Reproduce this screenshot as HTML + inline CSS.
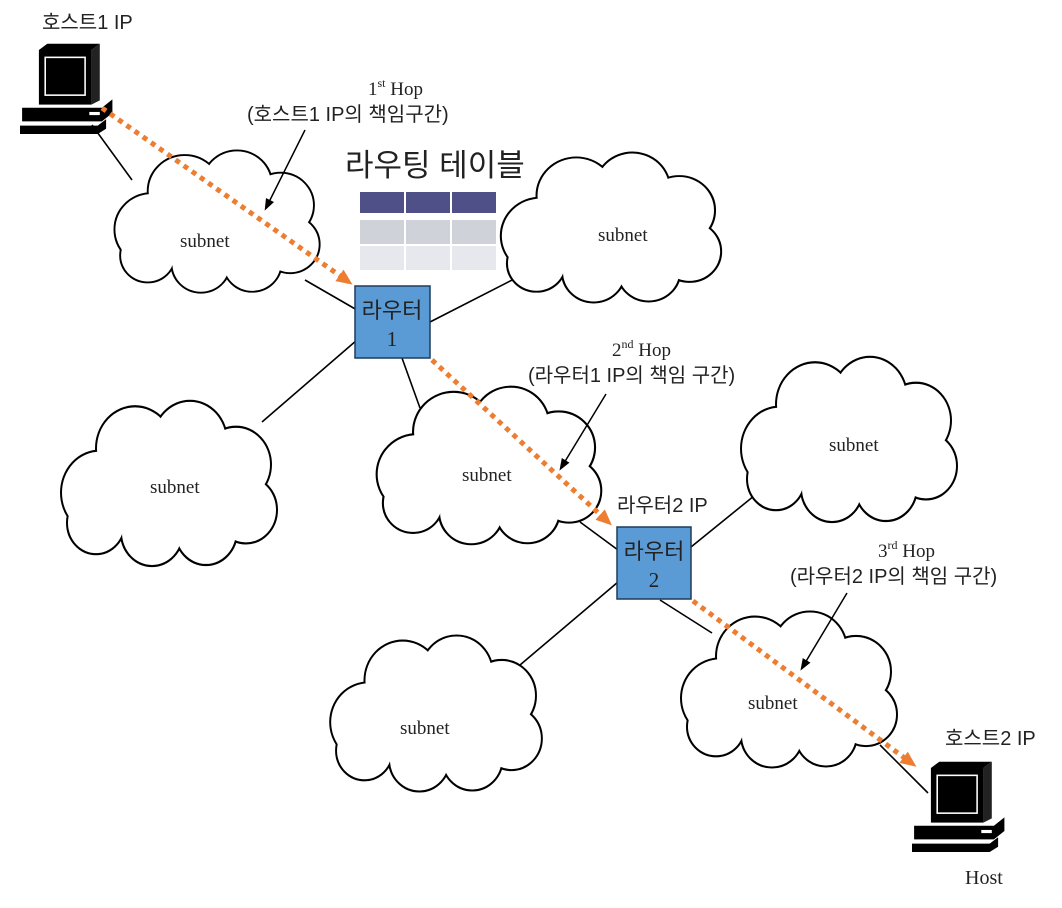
<!DOCTYPE html>
<html><head><meta charset="utf-8"><style>
html,body{margin:0;padding:0;background:#fff;}
svg{display:block;}
.t{font-family:"Liberation Serif","Noto Serif CJK SC","Noto Sans CJK KR",serif;fill:#222;}
.k{font-family:"Liberation Sans","Noto Sans CJK KR",sans-serif;fill:#222;}
</style></head><body>
<svg width="1062" height="908" viewBox="0 0 1062 908" xmlns="http://www.w3.org/2000/svg">
<defs>
<g id="c">
<circle cx="-70" cy="8" r="38"/><circle cx="-35" cy="-33" r="38"/><circle cx="20" cy="-40" r="36"/>
<circle cx="66" cy="-18" r="34"/><circle cx="76" cy="24" r="30"/><circle cx="36" cy="44" r="30"/>
<circle cx="-18" cy="45" r="30"/><circle cx="-74" cy="36" r="28"/><circle cx="0" cy="0" r="55"/>
</g>
<g id="cloud"><use href="#c" fill="#fff" stroke="#000" stroke-width="4"/><use href="#c" fill="#fff"/></g>
<g id="pc">
<path d="M18,0 L68,0 L76,-6 L26,-6 Z" fill="#000"/>
<rect x="18" y="0" width="50" height="52" fill="#000"/>
<path d="M68,0 L76,-6 L76,48 L68,52Z" fill="#222"/>
<rect x="24" y="7" width="38" height="36" fill="none" stroke="#fff" stroke-width="1.5"/>
<path d="M2,55 L78,55 L88,47 L88,60 L78,68 L2,68Z" fill="#000"/>
<rect x="66" y="59" width="10" height="3" fill="#fff"/>
<path d="M0,72 L74,72 L82,66 L82,75 L74,80 L0,80Z" fill="#000"/>
</g>
<marker id="oa" markerWidth="16" markerHeight="16" refX="8" refY="8" orient="auto" markerUnits="userSpaceOnUse"><path d="M0,1 L16,8 L0,15Z" fill="#ed7d31"/></marker>
<marker id="ba" markerWidth="8" markerHeight="8" refX="6" refY="4" orient="auto" markerUnits="strokeWidth"><path d="M0,1 L8,4 L0,7Z" fill="#000"/></marker>
</defs>

<g stroke="#000" stroke-width="1.6">
<line x1="92" y1="125" x2="132" y2="180"/>
<line x1="305" y1="280" x2="357" y2="310"/>
<line x1="430" y1="322" x2="520" y2="276"/>
<line x1="357" y1="340" x2="262" y2="422"/>
<line x1="402" y1="358" x2="420" y2="408"/>
<line x1="580" y1="522" x2="618" y2="550"/>
<line x1="691" y1="547" x2="765" y2="487"/>
<line x1="618" y1="582" x2="520" y2="665"/>
<line x1="660" y1="600" x2="712" y2="633"/>
<line x1="880" y1="745" x2="928" y2="793"/>
</g>

<use href="#cloud" transform="translate(218,222) scale(0.95,0.93)"/>
<use href="#cloud" transform="translate(612,228) scale(1.02,0.98)"/>
<use href="#cloud" transform="translate(170,484) scale(1.0,1.08)"/>
<use href="#cloud" transform="translate(490,466) scale(1.04,1.03)"/>
<use href="#cloud" transform="translate(850,440) scale(1.0,1.08)"/>
<use href="#cloud" transform="translate(437,714) scale(0.98,1.02)"/>
<use href="#cloud" transform="translate(790,690) scale(1.0,1.02)"/>

<g class="t" font-size="19">
<text x="180" y="247">subnet</text>
<text x="598" y="241">subnet</text>
<text x="150" y="493">subnet</text>
<text x="462" y="481">subnet</text>
<text x="829" y="451">subnet</text>
<text x="400" y="734">subnet</text>
<text x="748" y="709">subnet</text>
</g>

<use href="#pc" transform="translate(20,50) scale(1.05)"/>
<use href="#pc" transform="translate(912,768) scale(1.05)"/>

<text class="k" x="42" y="29" font-size="20">호스트1 IP</text>
<text class="k" x="945" y="745" font-size="20">호스트2 IP</text>
<text class="t" x="965" y="884" font-size="20">Host</text>

<text class="t" x="368" y="95" font-size="19">1<tspan font-size="12" dy="-8">st</tspan><tspan dy="8"> Hop</tspan></text>
<text class="k" x="247" y="121" font-size="20">(호스트1 IP의 책임구간)</text>
<text class="k" x="345" y="176" font-size="31">라우팅 테이블</text>

<g>
<rect x="360" y="192" width="44" height="21" fill="#4f5088"/>
<rect x="406" y="192" width="44" height="21" fill="#4f5088"/>
<rect x="452" y="192" width="44" height="21" fill="#4f5088"/>
<rect x="360" y="220" width="44" height="24" fill="#d0d2da"/>
<rect x="406" y="220" width="44" height="24" fill="#d0d2da"/>
<rect x="452" y="220" width="44" height="24" fill="#d0d2da"/>
<rect x="360" y="246" width="44" height="24" fill="#e7e8ed"/>
<rect x="406" y="246" width="44" height="24" fill="#e7e8ed"/>
<rect x="452" y="246" width="44" height="24" fill="#e7e8ed"/>
</g>

<text class="t" x="612" y="356" font-size="19">2<tspan font-size="12" dy="-8">nd</tspan><tspan dy="8"> Hop</tspan></text>
<text class="k" x="528" y="382" font-size="20">(라우터1 IP의 책임 구간)</text>
<text class="k" x="617" y="512" font-size="20">라우터2 IP</text>
<text class="t" x="878" y="557" font-size="19">3<tspan font-size="12" dy="-8">rd</tspan><tspan dy="8"> Hop</tspan></text>
<text class="k" x="790" y="583" font-size="20">(라우터2 IP의 책임 구간)</text>

<rect x="355" y="286" width="75" height="72" fill="#5b9bd5" stroke="#1f3b5a" stroke-width="1.5"/>
<text class="k" x="392" y="318" font-size="22" text-anchor="middle" fill="#111">라우터</text>
<text class="t" x="392" y="346" font-size="21" text-anchor="middle" fill="#111">1</text>
<rect x="617" y="527" width="74" height="72" fill="#5b9bd5" stroke="#1f3b5a" stroke-width="1.5"/>
<text class="k" x="654" y="559" font-size="22" text-anchor="middle" fill="#111">라우터</text>
<text class="t" x="654" y="587" font-size="21" text-anchor="middle" fill="#111">2</text>

<g stroke="#ed7d31" stroke-width="5" stroke-dasharray="5,5" fill="none">
<line x1="102" y1="108" x2="346" y2="280" marker-end="url(#oa)"/>
<line x1="432" y1="360" x2="606" y2="520" marker-end="url(#oa)"/>
<line x1="693" y1="601" x2="910" y2="762" marker-end="url(#oa)"/>
</g>

<g stroke="#000" stroke-width="1.5" fill="none">
<line x1="305" y1="130" x2="266" y2="208" marker-end="url(#ba)"/>
<line x1="606" y1="394" x2="561" y2="468" marker-end="url(#ba)"/>
<line x1="847" y1="593" x2="802" y2="668" marker-end="url(#ba)"/>
</g>
</svg>
</body></html>
